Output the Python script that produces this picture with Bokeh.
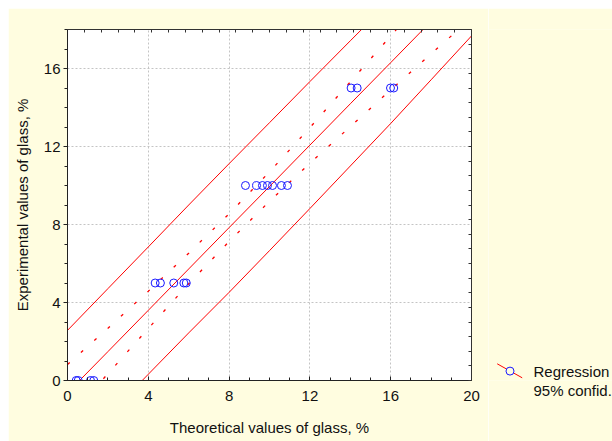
from bokeh.plotting import figure
from bokeh.models import (Range1d, LinearAxis, FixedTicker, SingleIntervalTicker,
                          CustomJSTickFormatter, Label, Spacer, Title)
from bokeh.layouts import row, column
from bokeh.embed import file_html
from bokeh.resources import INLINE

# ---------------- data ----------------
obs_x = [0.43, 0.53, 1.14, 1.30,
         4.34, 4.60, 5.26, 5.76, 5.88,
         8.81, 9.36, 9.65, 9.90, 10.15, 10.59, 10.89,
         14.04, 14.34, 15.99, 16.15]
obs_y = [0, 0, 0, 0,
         5, 5, 5, 5, 5,
         10, 10, 10, 10, 10, 10, 10,
         15, 15, 15, 15]

band_x = [0, 2, 4, 6, 8, 10, 12, 14, 16, 18, 20]
reg_y = [-0.63, 1.48, 3.60, 5.72, 7.84, 9.95, 12.07, 14.19, 16.30, 18.42, 20.54]
upper_pred = [2.57, 4.71, 6.85, 9.00, 11.12, 13.22, 15.33, 17.42, 19.50, 21.60, 23.70]
lower_pred = [-3.91, -1.80, 0.32, 2.44, 4.52, 6.66, 8.82, 11.00, 13.18, 15.42, 17.67]
upper_conf = [0.82, 2.68, 4.58, 6.53, 8.55, 10.70, 12.97, 15.31, 17.67, 20.02, 22.44]
lower_conf = [-1.98, 0.35, 2.67, 4.96, 7.13, 9.19, 11.14, 13.02, 14.90, 16.75, 18.59]

x_title = "Theoretical values of glass, %"
y_title = "Experimental values of glass, %"
legend_labels = ["Regression", "95% confid."]

# ---------------- styles ----------------
BG = "#fffde0"
RED = "#ff0000"
BLUE = "#1a1aff"
FONT = "Liberation Sans"
TXT = "#111111"

p = figure(width=480, height=433, x_range=Range1d(0, 20), y_range=Range1d(0, 18),
           output_backend="svg", toolbar_location=None,
           min_border_left=59, min_border_right=17, min_border_top=21, min_border_bottom=61,
           background_fill_color="white", border_fill_color=BG, outline_line_color=None)

for ax in (p.xaxis[0], p.yaxis[0]):
    ax.ticker = SingleIntervalTicker(interval=4, num_minor_ticks=4)
    ax.axis_line_color = "#222222"
    ax.major_tick_line_color = "#222222"
    ax.minor_tick_line_color = "#222222"
    ax.major_label_text_font = FONT
    ax.major_label_text_font_size = "15px"
    ax.major_label_text_color = TXT
    ax.axis_label_text_font = FONT
    ax.axis_label_text_font_size = "15px"
    ax.axis_label_text_font_style = "normal"
    ax.axis_label_text_color = TXT

p.xaxis[0].axis_label = x_title
p.xaxis[0].major_tick_in = 4
p.xaxis[0].major_tick_out = 0
p.xaxis[0].minor_tick_in = 3
p.xaxis[0].minor_tick_out = 0
p.xaxis[0].major_label_standoff = 10
p.xaxis[0].axis_label_standoff = 15

p.yaxis[0].axis_label = y_title
p.yaxis[0].major_tick_in = 0
p.yaxis[0].major_tick_out = 4
p.yaxis[0].minor_tick_in = 0
p.yaxis[0].minor_tick_out = 3
p.yaxis[0].major_label_standoff = 3
p.yaxis[0].axis_label_standoff = 10

top_ticks = [i * 20 / 24 for i in range(25)]
right_ticks = [i * 18 / 24 for i in range(25)]
for ticks, loc in ((top_ticks, "above"), (right_ticks, "right")):
    ax = LinearAxis(ticker=FixedTicker(ticks=ticks),
                    formatter=CustomJSTickFormatter(code="return ''"),
                    major_label_text_color=None,
                    major_label_standoff=0, major_tick_in=3, major_tick_out=0,
                    minor_tick_line_color=None, axis_line_color="#333333",
                    major_tick_line_color="#333333")
    p.add_layout(ax, loc)

for g in (p.xgrid[0], p.ygrid[0]):
    g.grid_line_color = "#c4c4c4"
    g.grid_line_dash = "2 2"
p.xgrid[0].ticker = SingleIntervalTicker(interval=4)
p.ygrid[0].ticker = SingleIntervalTicker(interval=4)

p.line(band_x, upper_pred, line_color=RED, line_width=1)
p.line(band_x, lower_pred, line_color=RED, line_width=1)
p.line(band_x, reg_y, line_color=RED, line_width=1)
p.line(band_x, upper_conf, line_color=RED, line_width=1.3, line_dash="3 15")
p.line(band_x, lower_conf, line_color=RED, line_width=1.3, line_dash="3 15")

p.scatter(obs_x, obs_y, marker="circle", size=8, fill_color=None,
          line_color=BLUE, line_width=1)

# ---------------- legend panel (page-pixel coordinates) ----------------
lf = figure(width=124, height=433, x_range=Range1d(488, 612), y_range=Range1d(380, 29),
            output_backend="svg", toolbar_location=None, min_border=0,
            x_axis_location=None, y_axis_location=None,
            background_fill_color=BG, border_fill_color=BG, outline_line_color=None)
lf.grid.visible = False
lf.line([496.7, 521.7], [363.3, 377.3], line_color=RED, line_width=1)
lf.scatter([509.5], [370.6], marker="circle", size=8, fill_color=BG,
           line_color=BLUE, line_width=1)
lf.add_layout(Label(x=533, y=370.5, text=legend_labels[0], text_baseline="middle",
                    text_align="left", text_font=FONT, text_font_size="15px",
                    text_color=TXT))
lf.add_layout(Title(text=legend_labels[1], align="left", offset=45, standoff=3,
                    text_font=FONT, text_font_size="15px", text_font_style="normal",
                    text_color=TXT, vertical_align="top"), "below")

layout = column(Spacer(height=8), row(Spacer(width=8), p, lf))
open("out.html", "w").write(file_html(layout, INLINE, "Regression"))
